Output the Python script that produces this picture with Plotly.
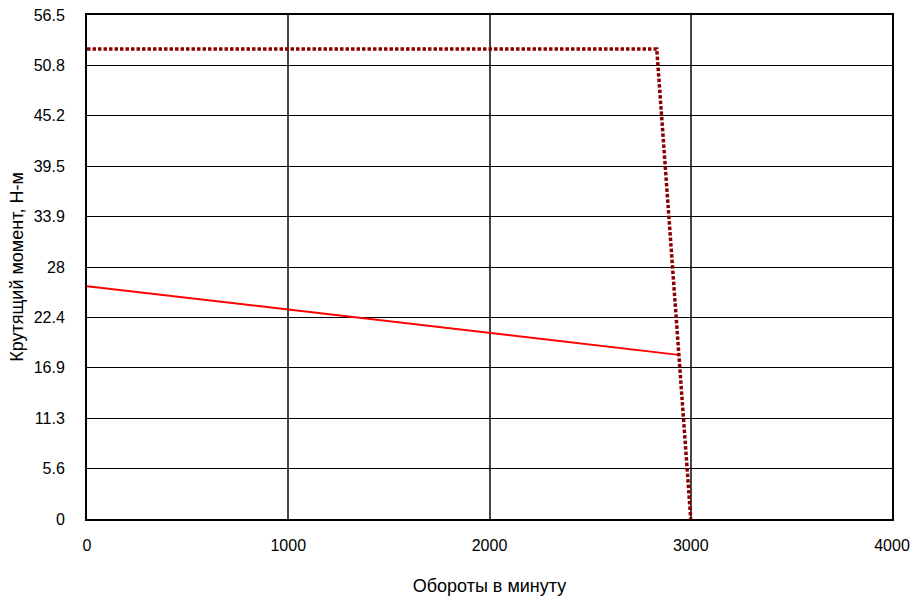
import plotly.graph_objects as go

rpm_limit = [0, 2831, 3000]
torque_limit = [52.7, 52.7, 0]

rpm_load = [0, 2940]
torque_load = [26.1, 18.4]

y_tick_vals = [i * 5.65 for i in range(11)]
y_tick_text = ["0", "5.6", "11.3", "16.9", "22.4", "28", "33.9", "39.5", "45.2", "50.8", "56.5"]
x_tick_vals = [0, 1000, 2000, 3000, 4000]

fig = go.Figure()
fig.add_trace(go.Scatter(x=rpm_load, y=torque_load, mode="lines",
                         line=dict(color="#ff0000", width=2), showlegend=False))
fig.add_trace(go.Scatter(x=rpm_limit, y=torque_limit, mode="lines",
                         line=dict(color="#8b0000", width=3.5, dash="3.5px,2px"), showlegend=False))

fig.update_layout(
    width=917, height=601,
    margin=dict(l=87, r=25, t=15, b=82),
    paper_bgcolor="white", plot_bgcolor="white",
    font=dict(family="Liberation Sans, Arial", size=15, color="black"),
    xaxis=dict(range=[0, 4000], tickvals=x_tick_vals, showgrid=True, gridcolor="#444", gridwidth=2,
               zeroline=False, showline=True, linecolor="black", linewidth=2, mirror=True,
               ticks="", ticklen=0, ticklabelstandoff=11, automargin=False,
               tickfont=dict(size=16),
               title=dict(text="Обороты в минуту", standoff=26)),
    yaxis=dict(range=[0, 56.5], tickvals=y_tick_vals, ticktext=y_tick_text,
               showgrid=True, gridcolor="black", gridwidth=1,
               zeroline=False, showline=True, linecolor="black", linewidth=2, mirror=True,
               ticks="", ticklen=0, ticklabelstandoff=17, automargin=False,
               tickfont=dict(size=16),
               title=dict(text="Крутящий момент, Н-м", standoff=5)),
)
fig.write_html("out.html")
